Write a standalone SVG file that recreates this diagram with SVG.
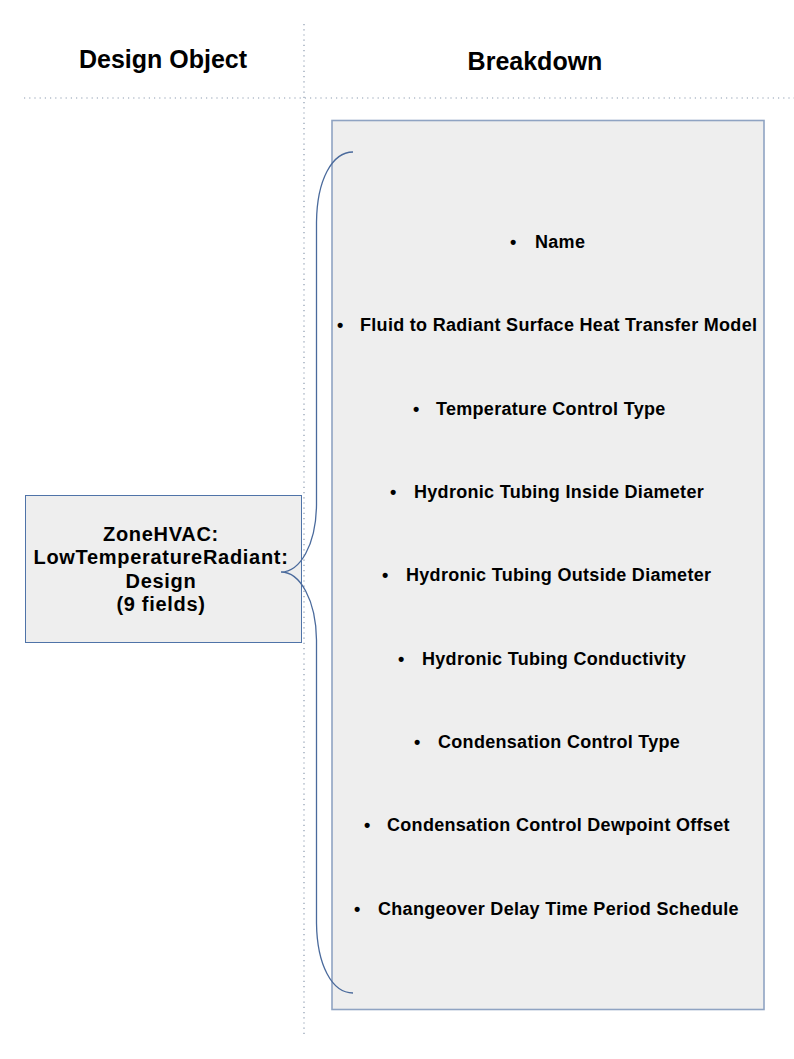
<svg xmlns="http://www.w3.org/2000/svg" width="794" height="1059" viewBox="0 0 794 1059">
<style>
.hdr{font-family:"Liberation Sans",Arial,sans-serif;font-weight:bold;font-size:25px;fill:#000;text-anchor:middle}
.lbl{font-family:"Liberation Sans",Arial,sans-serif;font-weight:bold;font-size:18px;letter-spacing:0.3px;fill:#000}
.obj{font-family:"Liberation Sans",Arial,sans-serif;font-weight:bold;font-size:20px;letter-spacing:0.7px;fill:#000;text-anchor:middle}
.grid{stroke:#8c9bb0;stroke-width:1.2;stroke-dasharray:1.2 4;fill:none}
.box{fill:#eeeeee}
.brace{fill:none;stroke:#4a6a9c;stroke-width:1.3}
</style>
<rect width="794" height="1059" fill="#ffffff"/>
<g id="grid">
<line class="grid" x1="304" y1="24" x2="304" y2="1034"/>
<line class="grid" x1="24" y1="98" x2="794" y2="98"/>
</g>
<g id="headers">
<text class="hdr" x="163" y="68">Design Object</text>
<text class="hdr" x="535" y="70">Breakdown</text>
</g>
<g id="breakdown">
<rect class="box" x="332" y="120.5" width="432" height="889" stroke="#8fa3c2" stroke-width="1.6"/>
<g class="lbl">
<text x="510" y="248">•</text><text x="535" y="248">Name</text>
<text x="337" y="331">•</text><text x="360" y="331">Fluid to Radiant Surface Heat Transfer Model</text>
<text x="413" y="415">•</text><text x="436" y="415">Temperature Control Type</text>
<text x="390" y="498">•</text><text x="414" y="498">Hydronic Tubing Inside Diameter</text>
<text x="382" y="581">•</text><text x="406" y="581">Hydronic Tubing Outside Diameter</text>
<text x="398" y="665">•</text><text x="422" y="665">Hydronic Tubing Conductivity</text>
<text x="414" y="748">•</text><text x="438" y="748">Condensation Control Type</text>
<text x="364" y="831">•</text><text x="387" y="831">Condensation Control Dewpoint Offset</text>
<text x="354" y="915">•</text><text x="378" y="915">Changeover Delay Time Period Schedule</text>
</g>
</g>
<g id="design-object">
<rect class="box" x="25.5" y="495.5" width="276" height="147" stroke="#4f73a8" stroke-width="1"/>
<text class="obj" x="161" y="541">ZoneHVAC:</text>
<text class="obj" x="161" y="564">LowTemperatureRadiant:</text>
<text class="obj" x="161" y="588">Design</text>
<text class="obj" x="161" y="611">(9 fields)</text>
</g>
<g id="connectors">
<path class="brace" d="M353,152 C332,152 317,180 316.5,222 L316.5,505 C316,545 300,572 281,572 C300,572 316,600 316.5,640 L316.5,923 C317,965 332,993 353,993"/>
</g>
</svg>
